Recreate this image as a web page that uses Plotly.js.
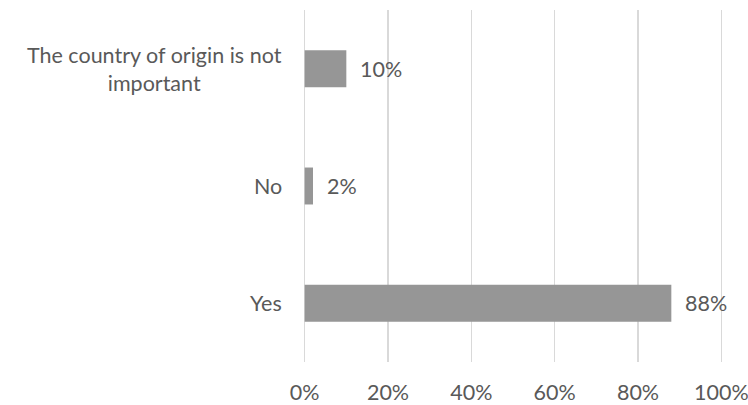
<!DOCTYPE html>
<html>
<head>
<meta charset="utf-8">
<script src="https://cdn.plot.ly/plotly-3.0.1.min.js"></script>
<style>html,body{margin:0;padding:0;background:#fff;}</style>
</head>
<body>
<div id="chart" style="width:748px;height:405px;"></div>
<script>
const categories = ["Yes", "No", "The country of origin is not important"];
const categoryLabels = ["Yes", "No", "The country of origin is not<br>important"];
const values = [88, 2, 10];
const valueLabels = ["88%", "2%", "10%"];
const xTicks = [0, 20, 40, 60, 80, 100];
const xTickLabels = ["0%", "20%", "40%", "60%", "80%", "100%"];

const textColor = "#595959";
const fontFam = "Lato, 'Open Sans', sans-serif";
const fs = 21.5;

const annotations = [];
categories.forEach((c, i) => {
  annotations.push({
    x: 0, xref: "paper", y: c, yref: "y",
    text: categoryLabels[i], showarrow: false,
    xanchor: "right", yanchor: "middle", align: "center",
    xshift: -19,
    font: {family: fontFam, size: fs, color: textColor}
  });
  annotations.push({
    x: values[i], xref: "x", y: c, yref: "y",
    text: valueLabels[i], showarrow: false,
    xanchor: "left", yanchor: "middle",
    xshift: 12,
    font: {family: fontFam, size: fs, color: textColor}
  });
});

Plotly.newPlot("chart", [{
  type: "bar",
  orientation: "h",
  y: categories,
  x: values,
  marker: {color: "#969696"},
  hoverinfo: "none"
}], {
  width: 748, height: 405,
  margin: {l: 303, r: 25, t: 10, b: 43, autoexpand: false},
  paper_bgcolor: "#ffffff",
  plot_bgcolor: "#ffffff",
  bargap: 0.685,
  showlegend: false,
  font: {family: fontFam, size: fs, color: textColor},
  xaxis: {
    range: [-0.4, 100.4],
    tickvals: xTicks,
    ticktext: xTickLabels,
    showgrid: true,
    gridcolor: "#d9d9d9",
    gridwidth: 1.5,
    zeroline: false,
    showline: false,
    ticks: "",
    ticklabelstandoff: 15,
    ticklabeloverflow: "allow",
    tickfont: {family: fontFam, size: fs, color: textColor},
    fixedrange: true
  },
  yaxis: {
    categoryorder: "array",
    categoryarray: categories,
    showticklabels: false,
    showgrid: false,
    zeroline: false,
    showline: false,
    ticks: "",
    fixedrange: true
  },
  annotations: annotations
}, {displayModeBar: false, staticPlot: true});
</script>
</body>
</html>
